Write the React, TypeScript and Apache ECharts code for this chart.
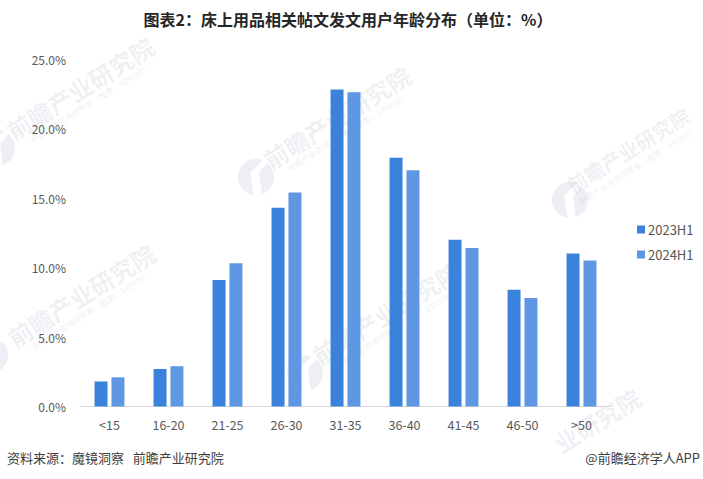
import { useEffect, useRef } from 'react';
import * as echarts from 'echarts';

const titleText = '图表2：床上用品相关帖文发文用户年龄分布（单位：%）';
const sourceText = '资料来源：魔镜洞察   前瞻产业研究院';
const creditText = '@前瞻经济学人APP';
const markText = '前瞻产业研究院';
const markSubText = '中国产业咨询领导者（股票：839599）';

const ageGroups = ['<15', '16-20', '21-25', '26-30', '31-35', '36-40', '41-45', '46-50', '>50'];
const values2023 = [1.8, 2.7, 9.1, 14.3, 22.8, 17.9, 12.0, 8.4, 11.0];
const values2024 = [2.1, 2.9, 10.3, 15.4, 22.6, 17.0, 11.4, 7.8, 10.5];

const sansFont = '"Noto Sans CJK SC", sans-serif';
const markColor = 'rgba(120,135,170,0.13)';
const subColor = 'rgba(120,135,170,0.16)';
const markAngle = (32 * Math.PI) / 180;

// watermark repeats behind the plot
const markSpots = [
  { x: 80, y: 88, size: 24 },
  { x: 337, y: 117, size: 24 },
  { x: 628, y: 150, size: 20 },
  { x: 81, y: 295, size: 24 },
  { x: 386, y: 313, size: 24 },
];
const logoSpots = [
  { x: -3, y: 148 },
  { x: 256, y: 177 },
  { x: 570, y: 200 },
  { x: -10, y: 355 },
  { x: 305, y: 373 },
];

export default function App() {
  const chartRef = useRef<HTMLDivElement>(null);

  useEffect(() => {
    if (!chartRef.current) return;
    document.body.style.margin = '0';
    const chart = echarts.init(chartRef.current, null, { renderer: 'svg' });

    const option: echarts.EChartsOption = {
      animation: false,
      backgroundColor: '#fff',
      textStyle: { fontFamily: sansFont },
      title: {
        text: titleText,
        left: 343,
        top: 6,
        textAlign: 'center',
        textStyle: { color: '#262626', fontSize: 16, fontWeight: 'bold', fontFamily: sansFont },
      },
      legend: {
        orient: 'vertical',
        left: 632,
        top: 218,
        itemWidth: 8,
        itemHeight: 8,
        itemGap: 12,
        icon: 'rect',
        textStyle: { color: '#555', fontSize: 13, padding: [0, 0, 0, -2] },
      },
      grid: { left: 80, right: 92, top: 59, bottom: 72.5 },
      xAxis: {
        type: 'category',
        data: ageGroups,
        axisLine: { lineStyle: { color: '#d9d9d9' } },
        axisTick: { show: false },
        axisLabel: { color: '#595959', fontSize: 12.5, margin: 12 },
      },
      yAxis: {
        type: 'value',
        min: 0,
        max: 25,
        interval: 5,
        axisLine: { show: false },
        axisTick: { show: false },
        splitLine: { show: false },
        axisLabel: {
          color: '#595959',
          fontSize: 12,
          margin: 14,
          formatter: (v: number) => v.toFixed(1) + '%',
        },
      },
      series: [
        {
          name: '2023H1',
          type: 'bar',
          data: values2023,
          barWidth: 13,
          barGap: '30%',
          itemStyle: { color: '#3b82dd' },
        },
        {
          name: '2024H1',
          type: 'bar',
          data: values2024,
          barWidth: 13,
          itemStyle: { color: '#5f97e3' },
        },
      ],
      graphic: [
        ...logoSpots.map((p) => ({
          type: 'circle' as const,
          z: -1,
          silent: true,
          shape: { cx: p.x, cy: p.y, r: 18 },
          style: { fill: markColor },
        })),
        // white notch that makes the round logo
        ...logoSpots.map((p) => ({
          type: 'polygon' as const,
          z: -1,
          silent: true,
          shape: {
            points: [
              [p.x - 2, p.y + 19],
              [p.x - 6, p.y - 4],
              [p.x + 9, p.y - 19],
              [p.x + 12, p.y - 15],
              [p.x + 3, p.y - 4],
              [p.x + 6, p.y + 19],
            ],
          },
          style: { fill: '#fff' },
        })),
        ...markSpots.map((p) => ({
          type: 'text' as const,
          x: p.x,
          y: p.y,
          rotation: markAngle,
          silent: true,
          z: -1,
          style: {
            text: markText,
            fill: markColor,
            font: `bold ${p.size}px ${sansFont}`,
            textAlign: 'center' as const,
            textVerticalAlign: 'middle' as const,
          },
        })),
        ...markSpots.map((p) => ({
          type: 'text' as const,
          x: p.x + 10,
          y: p.y + 15,
          rotation: markAngle,
          silent: true,
          z: -1,
          style: {
            text: markSubText,
            fill: subColor,
            font: `8px ${sansFont}`,
            textAlign: 'center' as const,
            textVerticalAlign: 'middle' as const,
          },
        })),
        {
          type: 'text',
          x: 597,
          y: 420,
          rotation: markAngle,
          silent: true,
          z: -1,
          style: {
            text: '业研究院',
            fill: markColor,
            font: `bold 24px ${sansFont}`,
            textAlign: 'center',
            textVerticalAlign: 'middle',
          },
        },
        {
          type: 'text',
          left: 7,
          top: 451,
          style: { text: sourceText, fill: '#404040', font: `13px ${sansFont}` },
        },
        {
          type: 'text',
          right: 3,
          top: 451,
          style: { text: creditText, fill: '#404040', font: `13px ${sansFont}` },
        },
      ],
    };

    chart.setOption(option);

    return () => {
      chart.dispose();
    };
  }, []);

  return <div ref={chartRef} style={{ width: 703, height: 479 }} />;
}
